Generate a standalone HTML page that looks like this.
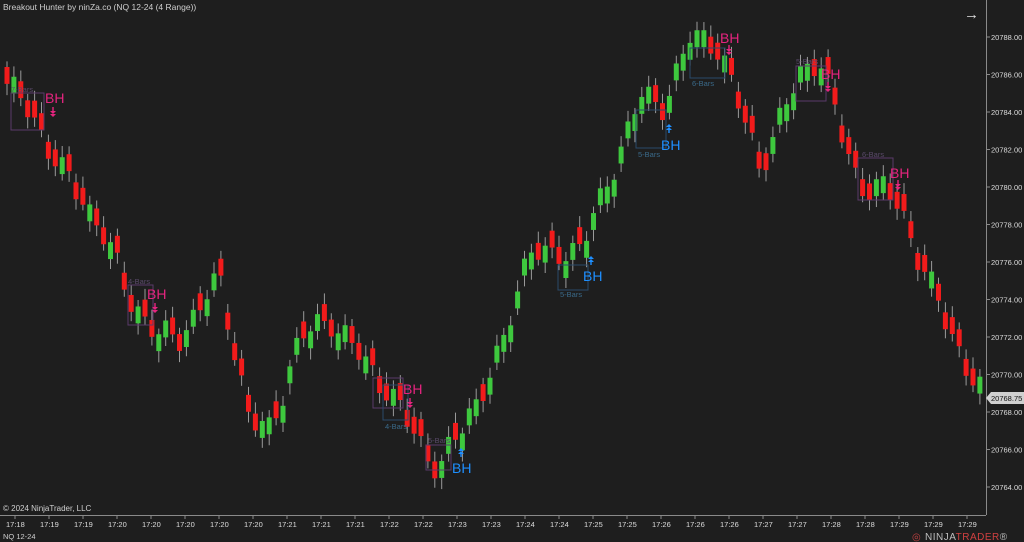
<!DOCTYPE html>
<html><head><meta charset="utf-8"><style>
body{margin:0;background:#1e1e1e;width:1024px;height:542px;overflow:hidden;font-family:"Liberation Sans",sans-serif}
svg{position:absolute;left:0;top:0}
</style></head><body>
<svg id="s" width="1024" height="542" xmlns="http://www.w3.org/2000/svg">
<rect width="1024" height="542" fill="#1e1e1e"/>
<g id="c"></g>
<line x1="986.5" y1="0" x2="986.5" y2="515" stroke="#8a8a8a"/>
<line x1="0" y1="515.5" x2="986" y2="515.5" stroke="#8a8a8a"/>
<text x="3" y="10" fill="#cfcfcf" font-size="8.5">Breakout Hunter by ninZa.co (NQ 12-24 (4 Range))</text>
<text x="3" y="511" fill="#cfcfcf" font-size="8">© 2024 NinjaTrader, LLC</text>
<text x="3" y="539" fill="#cfcfcf" font-size="7.5">NQ 12-24</text>
<text x="964" y="19" fill="#e0e0e0" font-size="15">→</text>
<text x="912" y="540" fill="#c04040" font-size="10">◎</text>
<text x="925" y="540" fill="#bdbdbd" font-size="10" letter-spacing="0.5">NINJA<tspan fill="#d04040">TRADER</tspan>®</text>
<g id="ax" fill="#dcdcdc" font-size="7.5"></g>
<g fill="none" stroke="#5a3a6a" stroke-width="1">
<rect x="11" y="93" width="33" height="37"/><rect x="128" y="285" width="25" height="40"/>
<rect x="373" y="378" width="30" height="30"/><rect x="858" y="158" width="35" height="42"/>
<rect x="796" y="66" width="30" height="35"/><rect x="426" y="445" width="25" height="25"/>
</g>
<g fill="none" stroke="#2a4a6a"><rect x="383" y="385" width="25" height="35"/><rect x="558" y="265" width="30" height="25"/><rect x="636" y="110" width="30" height="38"/><rect x="690" y="48" width="35" height="30"/></g>
<g fill="#5a4a6a" font-size="7.5"><text x="11" y="92">7-Bars</text><text x="128" y="284">4-Bars</text><text x="796" y="64">5-Bars</text><text x="862" y="157">6-Bars</text><text x="428" y="443">5-Bars</text></g>
<g fill="#3a6a8a" font-size="7.5"><text x="385" y="429">4-Bars</text><text x="560" y="297">5-Bars</text><text x="638" y="157">5-Bars</text><text x="692" y="86">6-Bars</text></g>
<g font-size="14">
<text x="45" y="103" fill="#e6247f">BH</text>
<text x="147" y="299" fill="#e6247f">BH</text>
<text x="403" y="394" fill="#e6247f">BH</text>
<text x="890" y="178" fill="#e6247f">BH</text>
<text x="720" y="43" fill="#e6247f">BH</text>
<text x="821" y="79" fill="#e6247f">BH</text>
<text x="452" y="473" fill="#1e8fff">BH</text>
<text x="583" y="281" fill="#1e8fff">BH</text>
<text x="661" y="150" fill="#1e8fff">BH</text>
</g>
<g id="arr"></g>
<path d="M986 398 l5 -6 h33 v12 h-33z" fill="#d0d0d0"/>
<text x="991" y="401" fill="#111" font-size="7.5">20768.75</text>
</svg>
<script>
(function(){
var P=[[7,20785.5],[30,20784],[60,20781],[100,20778],[130,20774],[160,20772],[180,20772],[210,20774.5],[220,20775],[250,20767.5],[270,20767],[300,20772],[330,20773],[360,20771],[390,20769],[430,20765.5],[440,20765],[470,20768],[500,20771],[530,20777],[550,20776],[580,20777],[600,20779],[640,20785],[660,20784],[690,20788],[720,20787.5],[735,20785],[760,20781],[775,20783],[800,20786],[820,20787],[840,20783],[860,20780],[880,20780],[900,20779],[920,20776],[945,20773],[970,20770],[984,20768.75]];
function tp(x){for(var i=1;i<P.length;i++){if(x<=P[i][0]){var a=P[i-1],b=P[i];return a[1]+(b[1]-a[1])*(x-a[0])/(b[0]-a[0]);}}return P[P.length-1][1];}
function Y(p){return 37+(20788-p)*18.75;}
var NS='http://www.w3.org/2000/svg';
function el(t,o,par){var e=document.createElementNS(NS,t);for(var k in o)e.setAttribute(k,o[k]);par.appendChild(e);return e;}
var g=document.getElementById('c'),prev=tp(7)+0.5;
for(var i=0;i<142;i++){var x=7+i*6.9;if(x>984)break;var p=tp(x)+0.6*Math.sin(i*1.7)+0.3*Math.sin(i*0.9);
var up=p>prev;var o=up?p-0.9:p+0.9;var hi=Math.max(o,p),lo=Math.min(o,p);
el('line',{x1:x,x2:x,y1:Y(hi+0.3+0.3*Math.abs(Math.sin(i))),y2:Y(lo-0.3-0.3*Math.abs(Math.cos(i))),stroke:'#9a9a9a','stroke-width':1},g);
el('rect',{x:x-2.5,y:Y(hi),width:5,height:Y(lo)-Y(hi),fill:up?'#3ec83e':'#f21b1b'},g);prev=p;}
var arr=document.getElementById('arr');
var A=[[53,111,0],[155,307,0],[410,402,0],[898,184,0],[729,49,0],[828,86,0],[461,448,1],[591,256,1],[669,124,1]];
A.forEach(function(a){var x=a[0],y=a[1],c=a[2]?'#1e8fff':'#e6247f';
if(a[2]){el('path',{d:'M'+(x-3)+' '+(y+3)+'l3-3l3 3zM'+(x-3)+' '+(y+6)+'l3-3l3 3z',fill:c},arr);el('rect',{x:x-0.7,y:y+5,width:1.4,height:4,fill:c},arr);}
else{el('rect',{x:x-0.7,y:y-4,width:1.4,height:4,fill:c},arr);el('path',{d:'M'+(x-3)+' '+(y)+'l3 3l3-3zM'+(x-3)+' '+(y+3)+'l3 3l3-3z',fill:c},arr);}});
var ax=document.getElementById('ax');
for(var v=20764;v<=20788;v+=2){var y=Y(v);el('line',{x1:986,x2:990,y1:y,y2:y,stroke:'#8a8a8a'},ax);var t=el('text',{x:991,y:y+3},ax);t.textContent=v+'.00';}
var L=['17:18','17:19','17:19','17:20','17:20','17:20','17:20','17:20','17:21','17:21','17:21','17:22','17:22','17:23','17:23','17:24','17:24','17:25','17:25','17:26','17:26','17:26','17:27','17:27','17:28','17:28','17:29','17:29','17:29'];
for(var k=0;k<L.length;k++){var x2=15+k*34;el('line',{x1:x2,x2:x2,y1:515,y2:519,stroke:'#8a8a8a'},ax);var t2=el('text',{x:x2-9,y:527},ax);t2.textContent=L[k];}
})();
</script>
</body></html>
